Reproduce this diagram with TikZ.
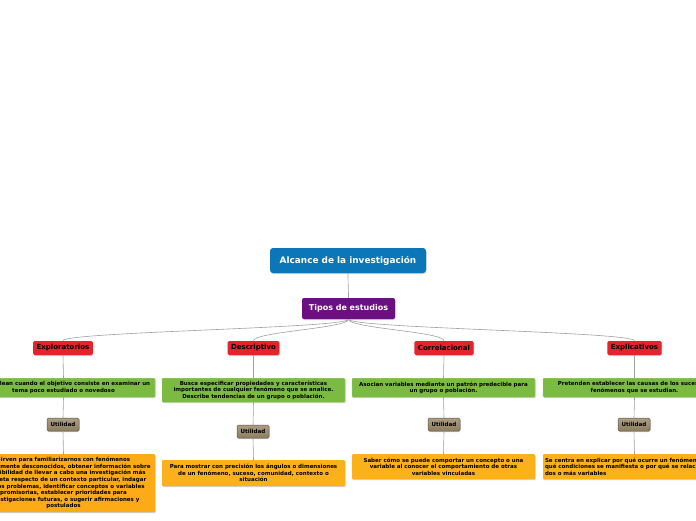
\documentclass[tikz,border=0pt]{standalone}
\usepackage{fontspec}
\setmainfont{DejaVu Sans}
\usetikzlibrary{shadows,calc}
\definecolor{rootblue}{HTML}{0B76B8}
\definecolor{tipopurple}{HTML}{6C0F80}
\definecolor{catred}{HTML}{E5232C}
\definecolor{descgreen}{HTML}{7CBB42}
\definecolor{utilorange}{HTML}{FBB21A}
\definecolor{utilbrown}{HTML}{8E7D5E}
\definecolor{utilborder}{HTML}{5E523D}
\definecolor{linkgray}{HTML}{A0A0A0}
\tikzset{
  boxshadow/.style={drop shadow={shadow xshift=0.6pt,shadow yshift=-1pt,fill=black!30,opacity=0.6}},
  rootbox/.style={fill=rootblue,text=white,rounded corners=3pt,minimum width=156pt,minimum height=25pt,font=\fontsize{8.9}{10}\selectfont\bfseries,boxshadow},
  tipobox/.style={fill=tipopurple,text=white,rounded corners=2pt,minimum width=93pt,minimum height=21pt,font=\fontsize{8}{9}\selectfont\bfseries,boxshadow},
  catbox/.style={fill=catred,text=black,rounded corners=1.5pt,inner xsep=3.5pt,minimum height=14pt,font=\fontsize{7}{8}\selectfont\bfseries,boxshadow},
  descbox/.style={fill=descgreen,draw=descgreen!70!white,line width=0.4pt,text=black,rounded corners=1pt,minimum width=183pt,align=center,inner sep=1.5pt,font=\fontsize{5.5}{6.6}\selectfont\bfseries,anchor=north,boxshadow},
  utilbox/.style={top color=utilbrown!75!white,bottom color=utilbrown,draw=utilborder,line width=0.5pt,text=black,rounded corners=1.5pt,minimum width=32pt,minimum height=13pt,inner sep=1pt,font=\fontsize{5.6}{6.5}\selectfont\bfseries,boxshadow},
  usebox/.style={fill=utilorange,text=black,rounded corners=1pt,minimum width=183pt,align=center,inner sep=1.5pt,font=\fontsize{5.5}{6.6}\selectfont\bfseries,anchor=north,boxshadow},
  link/.style={draw=linkgray,line width=0.6pt}
}
\begin{document}
\begin{tikzpicture}[x=1pt,y=-1pt]
\useasboundingbox (0,0) rectangle (696,520);
\clip (0,0) rectangle (696,520);
\fill[white] (0,0) rectangle (696,520);

\node[rootbox] (root) at (348,260.5) {Alcance de la investigación};
\node[tipobox] (tipos) at (348.5,308.5) {Tipos de estudios};

\node[catbox] (c1) at (63,348) {Exploratorios};
\node[catbox] (c2) at (253.5,348) {Descriptivo};
\node[catbox] (c3) at (444,348) {Correlacional};
\node[catbox] (c4) at (634.5,348) {Explicativos};

\node[descbox,minimum height=19pt] (d1) at (63.5,378) {Se emplean cuando el objetivo consiste en examinar un\\ tema poco estudiado o novedoso};
\node[descbox,minimum height=24pt] (d2) at (253.5,378) {Busca especificar propiedades y características\\ importantes de cualquier fenómeno que se analice.\\ Describe tendencias de un grupo o población.};
\node[descbox,minimum height=19pt] (d3) at (443.5,378) {Asocian variables mediante un patrón predecible para\\ un grupo o población.};
\node[descbox,minimum height=19pt] (d4) at (634.5,378) {Pretenden establecer las causas de los sucesos o\\ fenómenos que se estudian.};

\node[utilbox] (u1) at (63,424.5) {Utilidad};
\node[utilbox] (u2) at (253,431.5) {Utilidad};
\node[utilbox] (u3) at (444,424.5) {Utilidad};
\node[utilbox] (u4) at (634,424.5) {Utilidad};

\node[usebox,fill=utilorange!85!orange,minimum height=58pt] (o1) at (63.5,454) {Sirven para familiarizarnos con fenómenos\\ relativamente desconocidos, obtener información sobre\\ la posibilidad de llevar a cabo una investigación más\\ completa respecto de un contexto particular, indagar\\ nuevos problemas, identificar conceptos o variables\\ promisorias, establecer prioridades para\\ investigaciones futuras, o sugerir afirmaciones y\\ postulados};
\node[usebox,minimum height=26pt] (o2) at (253.5,460) {Para mostrar con precisión los ángulos o dimensiones\\ de un fenómeno, suceso, comunidad, contexto o\\ situación};
\node[usebox,minimum height=25pt] (o3) at (443.5,454) {Saber cómo se puede comportar un concepto o una\\ variable al conocer el comportamiento de otras\\ variables vinculadas};
\node[usebox,align=left,text width=179pt,inner xsep=2pt,minimum height=25pt] (o4) at (634.5,454) {Se centra en explicar por qué ocurre un fenómeno y en\\ qué condiciones se manifiesta o por qué se relacionan\\ dos o más variables};

\draw[link] (root.south) .. controls (348,285) and (348.5,288) .. (tipos.north);
\foreach \c in {c1,c2,c3,c4}{
  \draw[link] (tipos.south) .. controls ($(tipos.south)+(0,9)$) and ($(\c.north)+(0,-9)$) .. (\c.north);
}
\foreach \a/\b in {c1/d1,c2/d2,c3/d3,c4/d4,d1/u1,d2/u2,d3/u3,d4/u4,u1/o1,u2/o2,u3/o3,u4/o4}{
  \draw[link] (\a.south) -- (\b.north);
}
\end{tikzpicture}
\end{document}
